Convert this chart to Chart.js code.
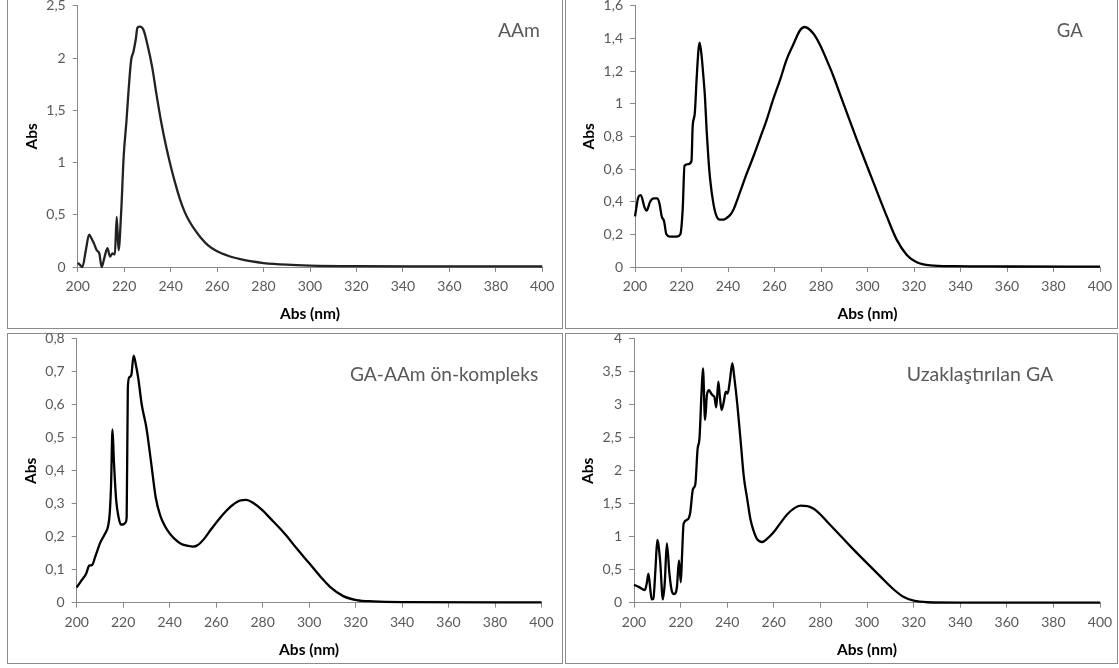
<!DOCTYPE html>
<html><head><meta charset="utf-8">
<script src="https://cdn.jsdelivr.net/npm/chart.js@4.4.1/dist/chart.umd.min.js"></script>
<style>
html,body{margin:0;padding:0;background:#fff;width:1119px;height:668px;overflow:hidden;position:relative;font-family:Lato,sans-serif;}
.box{position:absolute;border:1px solid #8c8c8c;box-sizing:border-box;}
canvas{position:absolute;}
</style></head><body>
<div class="box" style="left:7px;top:-3px;width:556px;height:332px"></div>
<div class="box" style="left:565px;top:-3px;width:553px;height:332px"></div>
<div class="box" style="left:7px;top:333px;width:556px;height:331px"></div>
<div class="box" style="left:565px;top:333px;width:553px;height:331px"></div>
<canvas id="c1"></canvas><canvas id="c2"></canvas><canvas id="c3"></canvas><canvas id="c4"></canvas>
<script>
// ---------- DATA ----------
const xTicks = [200,220,240,260,280,300,320,340,360,380,400];

const aamX = [200,201,202,203.5,204.9,206,207,208.2,209.3,210.3,211.5,212.8,213.9,215,216,216.8,217.6,218.7,219.8,221,221.8,223,224,225,225.7,226.8,228.3,230,232,234,236,238,240,242,244,246,248,250,253,256,260,265,270,275,280,290,300,320,350,400];
const aamY = [0.04,0.02,0.0,0.16,0.31,0.27,0.225,0.16,0.13,0.0,0.09,0.18,0.10,0.13,0.12,0.48,0.16,0.52,1.06,1.40,1.66,1.98,2.06,2.18,2.29,2.30,2.27,2.13,1.92,1.64,1.38,1.16,0.97,0.80,0.65,0.53,0.44,0.37,0.28,0.21,0.15,0.105,0.075,0.053,0.038,0.022,0.014,0.008,0.006,0.005];
const aamYTicks = [0,0.5,1,1.5,2,2.5];

const gaX = [200,201.5,202.5,204,205,206.5,208,209.5,210.5,211.5,212.5,213.5,215,218,219.5,220.5,221.3,223,224.3,224.8,225.7,226.5,227.3,227.8,228.6,229.4,230.1,230.8,231.5,232.3,233.7,235.1,236.5,238,239.4,241,242.3,245.2,248,251,253.8,256.6,259.5,262.4,265.2,268,271,273,276.7,279.6,282.4,285.3,288,295.4,302.5,308.3,312.6,316.9,321.2,327,337,360,400];
const gaY = [0.31,0.43,0.44,0.37,0.345,0.40,0.42,0.42,0.39,0.31,0.28,0.2,0.186,0.186,0.2,0.35,0.62,0.63,0.65,0.86,0.94,1.15,1.33,1.375,1.30,1.17,1.04,0.84,0.68,0.54,0.39,0.31,0.29,0.29,0.30,0.32,0.35,0.46,0.57,0.68,0.79,0.90,1.03,1.146,1.27,1.36,1.45,1.47,1.43,1.36,1.27,1.17,1.065,0.78,0.52,0.31,0.166,0.074,0.029,0.01,0.005,0.003,0.002];
const gaYTicks = [0,0.2,0.4,0.6,0.8,1,1.2,1.4,1.6];

const mixX = [200,202,204,205.5,206.5,208,209,210,212,213.5,214.2,214.8,215.4,216,217,218,219,220,221,221.5,222,222.6,223.5,224.5,225.5,226.5,228,230,232,234,236,238,240,242,245,248,250,252,255,258,262,266,270,273,276,280,283,287.5,290,294.6,300,305,309,314.7,320.4,327.6,340,400];
const mixY = [0.046,0.067,0.087,0.113,0.113,0.14,0.16,0.18,0.207,0.232,0.27,0.36,0.525,0.43,0.31,0.26,0.237,0.237,0.243,0.26,0.65,0.683,0.69,0.749,0.72,0.68,0.60,0.53,0.426,0.319,0.263,0.232,0.21,0.194,0.178,0.172,0.170,0.174,0.195,0.224,0.26,0.29,0.309,0.312,0.302,0.28,0.258,0.225,0.205,0.165,0.12,0.078,0.048,0.02,0.008,0.004,0.002,0.001];
const mixYTicks = [0,0.1,0.2,0.3,0.4,0.5,0.6,0.7,0.8];

const remX = [200,202,204.7,205.5,206.2,207,207.6,208.3,209.2,210,211.2,212.4,213.2,214.1,215.2,216.2,217.2,218.4,219.3,220.1,220.6,221.3,223,224.1,225.3,226.3,227.3,228.1,229,229.6,230.5,231.3,232.2,233.1,233.9,234.5,235.3,236.2,236.8,237.6,238.5,239.4,240.2,241.1,242.2,243.1,244.3,245.7,247.1,248.6,250,251.4,252.9,255,257.2,260,262.9,265.8,268.7,271.6,274.4,277.3,280.2,283.1,287.4,293,300,305.7,311.5,315.8,320,326,340,400];
const remY = [0.27,0.24,0.19,0.30,0.44,0.2,0.05,0.06,0.5,0.95,0.64,0.05,0.3,0.90,0.44,0.18,0.13,0.23,0.64,0.31,0.7,1.2,1.26,1.36,1.72,1.79,2.33,2.49,3.2,3.55,2.77,3.15,3.22,3.17,3.14,3.12,2.96,3.35,3.14,2.92,3.04,3.2,3.17,3.35,3.63,3.40,3.02,2.48,1.92,1.57,1.26,1.08,0.96,0.92,0.97,1.07,1.21,1.34,1.43,1.47,1.465,1.42,1.33,1.22,1.06,0.85,0.60,0.40,0.20,0.085,0.03,0.007,0.002,0.001];
const remYTicks = [0,0.5,1,1.5,2,2.5,3,3.5,4];

const titles = ['AAm','GA','GA-AAm ön-kompleks','Uzaklaştırılan GA'];
const xTitle = 'Abs (nm)';
const yTitle = 'Abs';

// ---------- LAYOUT ----------
const panels = [
  {id:'c1', xs:aamX, ys:aamY, yt:aamYTicks, color:'#222', box:[7,-3,562,328], area:[77.7,6,542.3,267], t:{l:498,r:540,base:36.5}},
  {id:'c2', xs:gaX, ys:gaY, yt:gaYTicks, color:'#000', box:[565,-3,1117,328], area:[635,6,1100,267], t:{l:1056.7,r:1082.7,base:36.5}},
  {id:'c3', xs:mixX, ys:mixY, yt:mixYTicks, color:'#000', box:[7,333,562,663], area:[76.7,341,541.5,602.7], t:{l:350,r:538.3,base:380.5}},
  {id:'c4', xs:remX, ys:remY, yt:remYTicks, color:'#000', box:[565,333,1117,663], area:[634,341,1100,602.7], t:{l:906.7,r:1053.3,base:380.5}}
];

Chart.defaults.font.family = 'Lato, "Open Sans", sans-serif';
Chart.defaults.color = '#595959';
const fmt = v => String(Math.round(v*100)/100).replace('.', ',');
const axisColor = '#898989';

panels.forEach((p, i) => {
  const cv = document.getElementById(p.id);
  const m = 14;
  const cl = p.box[0] - m, ct = p.box[1] - m;
  const cw = p.box[2] - p.box[0] + 2*m, chh = p.box[3] - p.box[1] + 2*m;
  cv.width = cw; cv.height = chh;
  cv.style.left = cl + 'px'; cv.style.top = ct + 'px';
  cv.style.width = cw + 'px'; cv.style.height = chh + 'px';
  const titlePlugin = {
    id: 'panelTitle',
    afterDraw(chart) {
      const ctx = chart.ctx;
      ctx.save();
      const base = 18;
      ctx.font = base + 'px Lato, "Open Sans", sans-serif';
      const w = ctx.measureText(titles[i]).width;
      const size = base * (p.t.r - p.t.l) / w;
      ctx.font = size.toFixed(2) + 'px Lato, "Open Sans", sans-serif';
      ctx.fillStyle = '#595959';
      ctx.textAlign = 'left';
      ctx.textBaseline = 'alphabetic';
      ctx.fillText(titles[i], p.t.l - cl, p.t.base - ct);
      ctx.restore();
    }
  };
  const cfg = {
    type: 'line',
    data: { datasets: [{
      data: p.xs.map((x, k) => ({x, y: p.ys[k]})),
      borderColor: p.color, borderWidth: 2.3, pointRadius: 0,
      cubicInterpolationMode: 'monotone', fill: false, clip: 4
    }]},
    options: {
      responsive: false, animation: false, maintainAspectRatio: false,
      layout: { padding: {left:0, top:0, right:0, bottom:0} },
      plugins: { legend: {display:false}, tooltip: {enabled:false} },
      scales: {
        x: {
          type: 'linear', min: 200, max: 400,
          afterBuildTicks: s => { s.ticks = xTicks.map(v => ({value: v})); },
          ticks: { font: {size: 14}, color: '#595959', padding: 6, maxRotation: 0, autoSkip: false, callback: v => fmt(v) },
          grid: { drawOnChartArea: false, drawTicks: true, tickLength: 5, color: axisColor },
          border: { display: true, color: axisColor, width: 1 },
          title: { display: true, text: xTitle, color: '#000', font: {size: 15.5, weight: 'bold'}, padding: {top: 4, bottom: 4} }
        },
        y: {
          type: 'linear', min: 0, max: p.yt[p.yt.length-1],
          afterBuildTicks: s => { s.ticks = p.yt.map(v => ({value: v})); },
          ticks: { font: {size: 14}, color: '#595959', padding: 7, autoSkip: false, callback: v => fmt(v) },
          grid: { drawOnChartArea: false, drawTicks: true, tickLength: 5, color: axisColor },
          border: { display: true, color: axisColor, width: 1 },
          title: { display: true, text: yTitle, color: '#000', font: {size: 15.5, weight: 'bold'}, padding: {top: 4, bottom: -2} }
        }
      }
    },
    plugins: [titlePlugin]
  };
  const ch = new Chart(cv, cfg);
  for (let k = 0; k < 3; k++) {
    const ca = ch.chartArea;
    const pad = Object.assign({}, ch.config.options.layout.padding);
    pad.left += (p.area[0] - cl) - ca.left;
    pad.top += (p.area[1] - ct) - ca.top;
    pad.right += ca.right - (p.area[2] - cl);
    pad.bottom += ca.bottom - (p.area[3] - ct);
    ch.config.options.layout.padding = pad;
    ch.update('none');
  }
});
</script>
</body></html>
